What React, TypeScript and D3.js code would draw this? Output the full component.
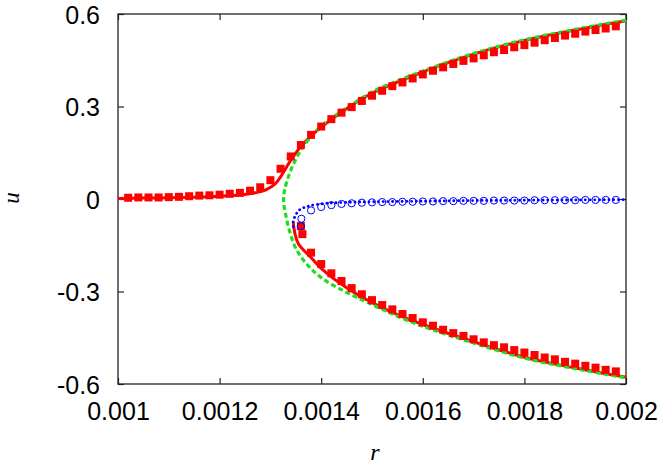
import React, { useRef, useEffect } from 'react';
import * as d3 from 'd3';

// upper (continuous) branch of simulated points, red squares
const upperR = [
  0.00102, 0.00104, 0.00106, 0.00108, 0.0011, 0.00112, 0.00114, 0.00116, 0.00118, 0.0012,
  0.00122, 0.00124, 0.00126, 0.00128, 0.0013, 0.00132, 0.00134, 0.00136, 0.00138, 0.0014,
  0.00142, 0.00144, 0.00146, 0.00148, 0.0015, 0.00152, 0.00154, 0.00156, 0.00158, 0.0016,
  0.00162, 0.00164, 0.00166, 0.00168, 0.0017, 0.00172, 0.00174, 0.00176, 0.00178, 0.0018,
  0.00182, 0.00184, 0.00186, 0.00188, 0.0019, 0.00192, 0.00194, 0.00196, 0.00198,
];
const upperU = [
  0.004, 0.005, 0.005, 0.005, 0.006, 0.007, 0.009, 0.011, 0.012, 0.014,
  0.017, 0.02, 0.027, 0.038, 0.061, 0.098, 0.138, 0.175, 0.208, 0.235,
  0.259, 0.28, 0.298, 0.318, 0.335, 0.351, 0.366, 0.378, 0.391, 0.404,
  0.416, 0.427, 0.438, 0.448, 0.456, 0.466, 0.476, 0.483, 0.492, 0.499,
  0.507, 0.515, 0.522, 0.53, 0.536, 0.543, 0.548, 0.553, 0.56,
];

// lower branch, red squares
const lowerR = [
  0.00136, 0.001363, 0.00138, 0.0014, 0.00142, 0.00144, 0.00146, 0.00148, 0.0015, 0.00152,
  0.00154, 0.00156, 0.00158, 0.0016, 0.00162, 0.00164, 0.00166, 0.00168, 0.0017, 0.00172,
  0.00174, 0.00176, 0.00178, 0.0018, 0.00182, 0.00184, 0.00186, 0.00188, 0.0019, 0.00192,
  0.00194, 0.00196, 0.00198,
];
const lowerU = [
  -0.088, -0.114, -0.174, -0.211, -0.241, -0.266, -0.289, -0.309, -0.328, -0.344,
  -0.358, -0.373, -0.386, -0.4, -0.411, -0.424, -0.435, -0.444, -0.455, -0.465,
  -0.474, -0.481, -0.49, -0.498, -0.506, -0.514, -0.52, -0.528, -0.534, -0.541,
  -0.547, -0.554, -0.559,
];

// middle (unstable) branch, blue open circles
const midR = [
  0.00136, 0.001361, 0.00138, 0.0014, 0.00142, 0.00144, 0.00146, 0.00148, 0.0015, 0.00152,
  0.00154, 0.00156, 0.00158, 0.0016, 0.00162, 0.00164, 0.00166, 0.00168, 0.0017, 0.00172,
  0.00174, 0.00176, 0.00178, 0.0018, 0.00182, 0.00184, 0.00186, 0.00188, 0.0019, 0.00192,
  0.00194, 0.00196, 0.00198,
];
const midU = [
  -0.088, -0.064, -0.037, -0.026, -0.02, -0.016, -0.014, -0.012, -0.011, -0.01,
  -0.01, -0.009, -0.009, -0.008, -0.008, -0.007, -0.007, -0.006, -0.006, -0.006,
  -0.005, -0.005, -0.005, -0.005, -0.004, -0.004, -0.004, -0.004, -0.004, -0.003,
  -0.003, -0.003, -0.003,
];

// red solid curve (theory), left/upper and lower pieces
const redUpR = [0.001, 0.00105, 0.0011, 0.00115, 0.0012, 0.00124, 0.00127, 0.00129, 0.00131, 0.00132,
  0.00134, 0.00136, 0.00138, 0.0014, 0.00145, 0.0015, 0.0016, 0.0017, 0.0018, 0.0019, 0.002];
const redUpU = [0.002, 0.003, 0.004, 0.006, 0.009, 0.013, 0.02, 0.029, 0.05, 0.072,
  0.125, 0.17, 0.204, 0.233, 0.293, 0.343, 0.412, 0.47, 0.514, 0.548, 0.578];
const redLoR = [0.001345, 0.001348, 0.001355, 0.00138, 0.0014, 0.00145, 0.0015, 0.00155, 0.0016, 0.0017, 0.0018, 0.0019, 0.002];
const redLoU = [-0.076, -0.11, -0.145, -0.19, -0.225, -0.288, -0.336, -0.375, -0.407, -0.463, -0.513, -0.548, -0.578];

// blue dotted curve
const blueR = [0.001345, 0.001345, 0.001349, 0.001354, 0.00136, 0.00137, 0.00138, 0.00141, 0.00145, 0.0015, 0.0016, 0.0017, 0.0018, 0.0019, 0.002];
const blueU = [-0.09, -0.073, -0.054, -0.041, -0.032, -0.026, -0.021, -0.014, -0.011, -0.009, -0.007, -0.005, -0.004, -0.003, -0.002];

// green dashed curve (mean-field)
const greenR = [0.002, 0.0019, 0.0018, 0.0017, 0.0016, 0.00155, 0.0015, 0.00145, 0.00142, 0.0014, 0.00138, 0.00136,
  0.001345, 0.001333, 0.001327, 0.001326, 0.00133, 0.001337, 0.00135, 0.00137, 0.0014, 0.00145, 0.0015,
  0.00155, 0.0016, 0.0017, 0.0018, 0.0019, 0.002];
const greenU = [0.58, 0.55, 0.516, 0.472, 0.415, 0.383, 0.347, 0.295, 0.262, 0.236, 0.203, 0.158,
  0.112, 0.06, 0.02, -0.01, -0.05, -0.1, -0.16, -0.208, -0.255, -0.303, -0.342,
  -0.38, -0.413, -0.467, -0.516, -0.55, -0.58];

const xTicks = [0.001, 0.0012, 0.0014, 0.0016, 0.0018, 0.002];
const xTickLabels = ['0.001', '0.0012', '0.0014', '0.0016', '0.0018', '0.002'];
const yTicks = [-0.6, -0.3, 0, 0.3, 0.6];
const yTickLabels = ['-0.6', '-0.3', '0', '0.3', '0.6'];

const zip = (a: number[], b: number[]) => a.map((v, i) => [v, b[i]] as [number, number]);

export default function App() {
  const ref = useRef<SVGSVGElement>(null);
  const width = 664;
  const height = 467;

  useEffect(() => {
    const svg = d3.select(ref.current);
    svg.selectAll('*').remove();

    const margin = { top: 14, right: 38, bottom: 83, left: 118 };
    const innerW = width - margin.left - margin.right;
    const innerH = height - margin.top - margin.bottom;

    const x = d3.scaleLinear().domain([0.001, 0.002]).range([0, innerW]);
    const y = d3.scaleLinear().domain([-0.6, 0.6]).range([innerH, 0]);

    const g = svg.append('g').attr('transform', `translate(${margin.left},${margin.top})`);

    const font = '"Liberation Sans", Arial, sans-serif';
    const axisColor = '#222';

    const bottom = g.append('g').attr('transform', `translate(0,${innerH})`)
      .call(d3.axisBottom(x).tickValues(xTicks).tickSize(-6).tickPadding(0)
        .tickFormat((d, i) => xTickLabels[i]));
    bottom.selectAll('text').attr('y', 36).attr('dy', 0);

    const left = g.append('g')
      .call(d3.axisLeft(y).tickValues(yTicks).tickSize(-6).tickPadding(0)
        .tickFormat((d, i) => yTickLabels[i]));
    left.selectAll('text').attr('x', -18).attr('dy', '0.36em');

    g.append('g').call(d3.axisTop(x).tickValues(xTicks).tickSize(-6).tickFormat(() => ''));
    g.append('g').attr('transform', `translate(${innerW},0)`)
      .call(d3.axisRight(y).tickValues(yTicks).tickSize(-6).tickFormat(() => ''));

    g.selectAll('.domain').remove();
    g.selectAll('.tick line').attr('stroke', axisColor).attr('stroke-width', 1.2);
    g.selectAll('.tick text').attr('fill', '#000').attr('font-family', font).attr('font-size', 25);

    g.append('rect')
      .attr('width', innerW).attr('height', innerH)
      .attr('fill', 'none').attr('stroke', axisColor).attr('stroke-width', 1.3);

    const line = d3.line<[number, number]>()
      .x(d => x(d[0])).y(d => y(d[1]))
      .curve(d3.curveCatmullRom.alpha(0.5));

    const plot = g.append('g');

    plot.append('path').attr('d', line(zip(redUpR, redUpU)))
      .attr('fill', 'none').attr('stroke', '#ff0000').attr('stroke-width', 3);
    plot.append('path').attr('d', line(zip(redLoR, redLoU)))
      .attr('fill', 'none').attr('stroke', '#ff0000').attr('stroke-width', 3);

    plot.append('path').attr('d', line(zip(greenR, greenU)))
      .attr('fill', 'none').attr('stroke', '#1fdd1f').attr('stroke-width', 3.2)
      .attr('stroke-dasharray', '5,3');

    plot.append('path').attr('d', line(zip(blueR, blueU)))
      .attr('fill', 'none').attr('stroke', '#0000ff').attr('stroke-width', 2.8)
      .attr('stroke-linecap', 'round').attr('stroke-dasharray', '0.1,4.6');

    const sq = 8;
    plot.append('g').selectAll('rect')
      .data([...zip(upperR, upperU), ...zip(lowerR, lowerU)])
      .join('rect')
      .attr('x', d => x(d[0]) - sq / 2).attr('y', d => y(d[1]) - sq / 2)
      .attr('width', sq).attr('height', sq)
      .attr('fill', '#ff0000');

    plot.append('g').selectAll('circle')
      .data(zip(midR, midU))
      .join('circle')
      .attr('cx', d => x(d[0])).attr('cy', d => y(d[1])).attr('r', 3.6)
      .attr('fill', 'none').attr('stroke', '#0000ff').attr('stroke-width', 1);

    svg.append('text')
      .attr('transform', 'translate(19,198) rotate(-90)')
      .attr('text-anchor', 'middle')
      .attr('font-family', '"Liberation Serif", serif').attr('font-style', 'italic')
      .attr('font-size', 23)
      .text('u');

    svg.append('text')
      .attr('x', margin.left + innerW / 2 + 3).attr('y', 460)
      .attr('text-anchor', 'middle')
      .attr('font-family', '"Liberation Serif", serif').attr('font-style', 'italic')
      .attr('font-size', 24)
      .text('r');
  }, []);

  return (
    <svg ref={ref} width={width} height={height}
      style={{ position: 'absolute', left: 0, top: 0, background: '#fff' }} />
  );
}
